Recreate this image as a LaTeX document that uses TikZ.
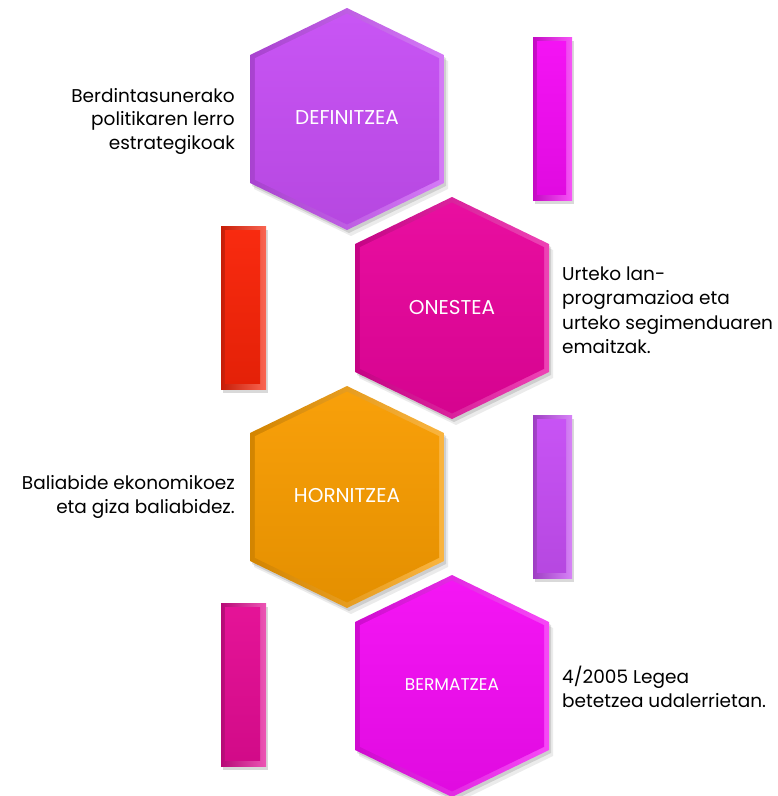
\documentclass[tikz,border=0pt]{standalone}
\usepackage{fontspec}
\setmainfont{Poppins}
\usetikzlibrary{calc}

\definecolor{defc}{HTML}{C64EF4}
\definecolor{onec}{HTML}{E8049C}
\definecolor{horc}{HTML}{F89C00}
\definecolor{berc}{HTML}{F40CF4}
\definecolor{redc}{HTML}{F82408}
\definecolor{pinkc}{HTML}{E40C94}

% hexagon outline, centred on the origin (pixel units)
\def\hexa{(0,-111) -- (97,-64) -- (97,64) -- (0,111) -- (-97,64) -- (-97,-64) -- cycle}

\tikzset{
  hexlabel/.style={text=white, font=\fontsize{20}{22}\selectfont},
  lefttxt/.style={anchor=east, align=right, inner sep=0pt, font=\fontsize{18.5}{23.5}\selectfont},
  righttxt/.style={anchor=west, align=left, inner sep=0pt, font=\fontsize{18.5}{24.5}\selectfont}
}

\begin{document}
\begin{tikzpicture}[x=1pt, y=-1pt]

\useasboundingbox (0,0) rectangle (778,796);

% hexagons
\foreach \cx/\cy/\c in {347/119/defc, 452/308/onec, 347/497/horc, 452/686/berc}{
  \fill[black, opacity=0.08, shift={(\cx+4,\cy+6)}] \hexa;
  \fill[black, opacity=0.12, shift={(\cx+2,\cy+3)}] \hexa;
  \shade[left color=\c!85!black, right color=\c!75!white, shift={(\cx,\cy)}] \hexa;
  \shade[top color=\c!96!white, bottom color=\c!92!black, shift={(\cx,\cy)}, scale=0.95] \hexa;
}

% bars
\foreach \x/\y/\w/\c in {533/37/39/berc, 221/226/45/redc, 533/415/39/defc, 221/603/45/pinkc}{
  \fill[black, opacity=0.15, shift={(\x+2,\y+4)}] (0,0) rectangle (\w,163);
  \shade[left color=\c!80!black, right color=\c!70!white, shift={(\x,\y)}] (0,0) rectangle (\w,163);
  \shade[top color=\c!97!white, bottom color=\c!92!black, shift={(\x,\y)}] (4,4) rectangle (\w-6,157);
}

\node[hexlabel] (definitzea) at (347,118) {DEFINITZEA};
\node[hexlabel] (onestea) at (452,308) {ONESTEA};
\node[hexlabel] (hornitzea) at (347,496) {HORNITZEA};
\node[hexlabel, font=\fontsize{17}{19}\selectfont] (bermatzea) at (452,685) {BERMATZEA};

\node[lefttxt] (lerro) at (235,121) {Berdintasunerako\\politikaren lerro\\estrategikoak};
\node[righttxt] (urteko) at (562,310) {Urteko lan-\\programazioa eta\\urteko segimenduaren\\emaitzak.};
\node[lefttxt] (baliabide) at (235,497) {Baliabide ekonomikoez\\eta giza baliabidez.};
\node[righttxt] (legea) at (562,687) {4/2005 Legea\\betetzea udalerrietan.};

\end{tikzpicture}
\end{document}
